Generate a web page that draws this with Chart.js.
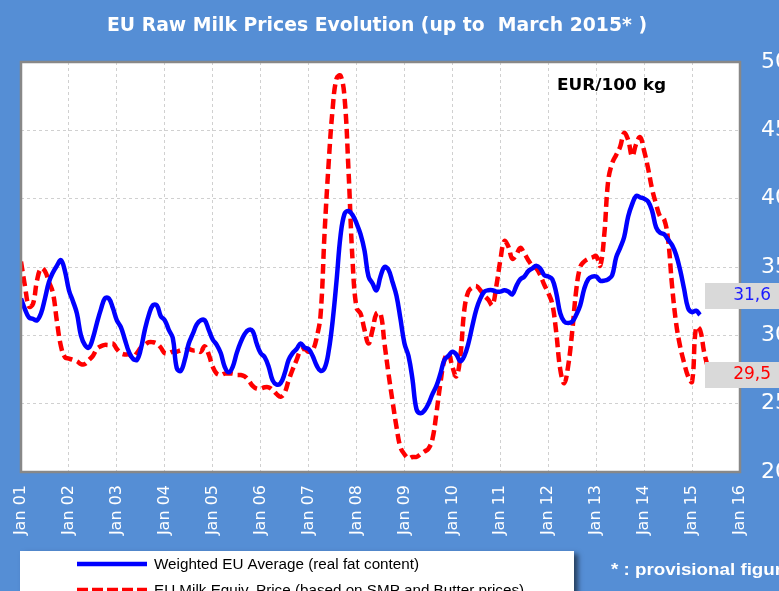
<!DOCTYPE html>
<html>
<head>
<meta charset="utf-8">
<script src="https://cdn.jsdelivr.net/npm/chart.js@4.4.1/dist/chart.umd.min.js"></script>
<style>
html, body { margin: 0; padding: 0; background: #558ED5; overflow: hidden; }
#wrap { width: 779px; height: 591px; }
</style>
</head>
<body>
<div id="wrap"><canvas id="milk-chart" width="779" height="591"></canvas></div>
<script>
// monthly values from Jan 2001, EUR/100 kg
const yearLabels = ['Jan 01', 'Jan 02', 'Jan 03', 'Jan 04', 'Jan 05', 'Jan 06', 'Jan 07', 'Jan 08',
    'Jan 09', 'Jan 10', 'Jan 11', 'Jan 12', 'Jan 13', 'Jan 14', 'Jan 15', 'Jan 16'];
const priceTicks = [20, 25, 30, 35, 40, 45, 50];

const weightedAvg = [
    32.7, 31.9, 31.3, 31.2, 31.1, 31.6, 32.7, 33.9, 34.6, 35.1, 35.5, 34.7, // 2001
    33.3, 32.5, 31.6, 30.0, 29.3, 29.1, 29.8, 30.9, 31.9, 32.7, 32.7, 32.0, // 2002
    31.1, 30.6, 29.7, 28.8, 28.3, 28.2, 29.0, 30.4, 31.5, 32.2, 32.2, 31.4, // 2003
    31.1, 30.4, 29.8, 27.6, 27.4, 28.2, 29.4, 30.1, 30.8, 31.1, 31.1, 30.4, // 2004
    29.7, 29.3, 28.7, 27.7, 27.3, 27.7, 28.7, 29.5, 30.1, 30.4, 30.3, 29.4, // 2005
    28.7, 28.4, 27.7, 26.7, 26.4, 26.5, 27.2, 28.2, 28.7, 29.0, 29.4, 29.1, // 2006
    29.0, 28.5, 27.8, 27.4, 27.6, 28.8, 31.0, 34.0, 37.3, 38.9, 39.1, 38.8, // 2007
    38.2, 37.4, 36.2, 34.3, 33.8, 33.3, 34.3, 35.0, 34.8, 33.9, 32.9, 31.2, // 2008
    29.4, 28.5, 26.8, 24.6, 24.3, 24.5, 25.0, 25.7, 26.3, 27.2, 28.2, 28.5, // 2009
    28.8, 28.6, 28.1, 28.5, 29.4, 30.7, 31.9, 32.7, 33.2, 33.3, 33.3, 33.2, // 2010
    33.2, 33.3, 33.2, 33.0, 33.6, 34.1, 34.3, 34.7, 34.9, 35.1, 34.9, 34.4, // 2011
    34.3, 34.1, 33.1, 31.6, 31.0, 30.9, 31.0, 31.5, 32.2, 33.4, 34.1, 34.3, // 2012
    34.3, 34.0, 34.0, 34.1, 34.4, 35.7, 36.4, 37.2, 38.7, 39.6, 40.2, 40.1, // 2013
    40.0, 39.8, 39.1, 37.9, 37.5, 37.4, 37.0, 36.6, 35.9, 34.8, 33.4, 32.0, // 2014
    31.7, 31.8, 31.5                                                        // 2015
];

const milkEquivPrice = [
    35.4, 33.6, 32.1, 32.3, 34.0, 34.9, 34.7, 33.9, 33.1, 31.0, 29.2, 28.4, // 2001
    28.3, 28.2, 28.1, 27.9, 27.9, 28.2, 28.5, 29.0, 29.2, 29.3, 29.3, 29.4, // 2002
    29.0, 28.7, 28.6, 28.6, 28.4, 28.7, 29.1, 29.3, 29.5, 29.5, 29.4, 29.1, // 2003
    28.7, 28.7, 28.8, 28.8, 28.9, 28.9, 29.0, 28.9, 28.9, 28.8, 29.2, 28.6, // 2004
    27.7, 27.2, 27.1, 27.2, 27.2, 27.2, 27.1, 27.1, 27.0, 26.7, 26.3, 26.1, // 2005
    26.1, 26.2, 26.2, 26.0, 25.7, 25.5, 25.8, 26.7, 27.5, 28.2, 28.9, 29.0, // 2006
    28.8, 28.9, 29.8, 31.5, 37.5, 42.5, 46.5, 48.8, 49.0, 47.4, 42.0, 35.5, // 2007
    32.0, 31.6, 30.4, 29.4, 30.4, 31.6, 31.6, 29.4, 27.2, 25.2, 23.3, 21.8, // 2008
    21.3, 21.0, 21.1, 21.1, 21.3, 21.5, 21.7, 22.4, 24.3, 26.5, 28.2, 28.7, // 2009
    27.7, 27.0, 28.5, 31.9, 33.2, 33.5, 33.6, 33.3, 32.9, 32.6, 32.2, 33.6, // 2010
    35.5, 36.9, 36.5, 35.6, 35.9, 36.4, 36.0, 35.5, 35.1, 34.9, 34.4, 33.7, // 2011
    33.1, 32.3, 30.2, 27.5, 26.5, 27.8, 30.3, 33.3, 35.0, 35.4, 35.6, 35.7, // 2012
    35.8, 35.1, 37.3, 41.3, 42.6, 43.2, 43.8, 44.8, 44.3, 43.1, 44.0, 44.5, // 2013
    43.5, 42.2, 40.7, 39.6, 38.7, 38.5, 37.0, 33.6, 30.9, 29.2, 28.0, 27.0, // 2014
    26.6, 30.6, 30.4, 28.8, 27.6                                            // 2015
];

const seriesNames = ['Weighted EU Average (real fat content)', 'EU Milk Equiv. Price (based on SMP and Butter prices)'];
const lastLabels = ['31,6', '29,5'];
const titleText = 'EU Raw Milk Prices Evolution (up to  March 2015* )';
const unitText = 'EUR/100 kg';
const noteText = '* : provisional figures';

// draws text squeezed/stretched by a factor
function drawScaled(c, text, x, y, sx) {
    c.save();
    c.translate(x, y);
    c.scale(sx, 1);
    c.fillText(text, 0, 0);
    c.restore();
}

function fitText(c, text, x, y, width) {
    drawScaled(c, text, x, y, width / c.measureText(text).width);
}

const framePlugin = {
    id: 'frame',
    beforeDraw(chart) {
        const c = chart.ctx;
        const a = chart.chartArea;
        c.save();
        c.fillStyle = '#558ED5';
        c.fillRect(0, 0, chart.width, chart.height);
        c.fillStyle = '#ffffff';
        c.fillRect(a.left, a.top, a.right - a.left, a.bottom - a.top);
        c.restore();
    },
    afterDraw(chart) {
        const c = chart.ctx;
        const a = chart.chartArea;
        c.save();
        // plot border
        c.strokeStyle = '#888888';
        c.lineWidth = 2.5;
        c.strokeRect(a.left, a.top, a.right - a.left, a.bottom - a.top);

        // title
        c.fillStyle = '#ffffff';
        c.textBaseline = 'middle';
        c.textAlign = 'left';
        c.font = 'bold 20px "DejaVu Sans"';
        fitText(c, titleText, 107, 26, 540);

        // unit
        c.fillStyle = '#000000';
        c.font = 'bold 16px "DejaVu Sans"';
        fitText(c, unitText, 557, 86, 109);

        // last value boxes
        const boxes = [[283, '#1a1aff'], [362, '#ff0000']];
        boxes.forEach((b, i) => {
            c.fillStyle = '#D9D9D9';
            c.fillRect(705, b[0], 80, 26);
            c.fillStyle = b[1];
            c.font = '17px "DejaVu Sans"';
            c.textAlign = 'right';
            c.fillText(lastLabels[i], 771, b[0] + 13);
        });

        // footnote
        c.textAlign = 'left';
        c.fillStyle = '#ffffff';
        c.font = 'bold 16px "Liberation Sans"';
        fitText(c, noteText, 611, 571, 192);

        // legend box
        c.save();
        c.shadowColor = 'rgba(0,0,0,0.55)';
        c.shadowBlur = 5;
        c.shadowOffsetX = 4;
        c.shadowOffsetY = 3;
        c.fillStyle = '#ffffff';
        c.fillRect(20, 551, 554, 60);
        c.restore();

        const rows = [564, 590];
        c.font = '14px "Liberation Sans"';
        const sx = 265 / c.measureText(seriesNames[0]).width;
        chart.data.datasets.forEach((ds, i) => {
            c.beginPath();
            c.strokeStyle = ds.borderColor;
            c.lineWidth = 4.5;
            c.setLineDash(i === 1 ? [11, 4] : []);
            c.moveTo(77, rows[i]);
            c.lineTo(147, rows[i]);
            c.stroke();
            c.setLineDash([]);
            c.fillStyle = '#000000';
            c.textAlign = 'left';
            drawScaled(c, ds.label, 154, rows[i] + 1, sx);
        });
        c.restore();
    }
};

new Chart(document.getElementById('milk-chart').getContext('2d'), {
    type: 'line',
    data: {
        datasets: [{
            label: seriesNames[0],
            data: weightedAvg.map((v, i) => ({ x: i, y: v })),
            borderColor: '#0000FF',
            borderWidth: 4.5,
            pointRadius: 0,
            tension: 0.4,
            fill: false
        }, {
            label: seriesNames[1],
            data: milkEquivPrice.map((v, i) => ({ x: i, y: v })),
            borderColor: '#FF0000',
            borderWidth: 4.5,
            borderDash: [10, 5],
            pointRadius: 0,
            tension: 0.4,
            fill: false
        }]
    },
    options: {
        responsive: false,
        animation: false,
        devicePixelRatio: 1,
        layout: { padding: { left: 21, top: 62, right: 0, bottom: 0 } },
        plugins: {
            legend: { display: false },
            title: { display: false },
            tooltip: { enabled: false }
        },
        scales: {
            x: {
                type: 'linear',
                min: 0,
                max: 180,
                afterBuildTicks: (scale) => {
                    scale.ticks = yearLabels.map((t, i) => ({ value: i * 12 }));
                },
                afterFit: (scale) => { scale.height = 119; },
                grid: { color: '#D0D0D0', lineWidth: 1, drawTicks: false },
                border: { display: false, dash: [3, 3] },
                ticks: {
                    autoSkip: false,
                    minRotation: 90,
                    maxRotation: 90,
                    padding: 13,
                    color: '#ffffff',
                    font: { family: 'DejaVu Sans', size: 16 },
                    callback: (v) => yearLabels[Math.round(v / 12)]
                }
            },
            y: {
                position: 'right',
                min: 20,
                max: 50,
                afterBuildTicks: (scale) => {
                    scale.ticks = priceTicks.map((v) => ({ value: v }));
                },
                afterFit: (scale) => { scale.width = 39; },
                grid: { color: '#D0D0D0', lineWidth: 1, drawTicks: false },
                border: { display: false, dash: [3, 3] },
                ticks: {
                    padding: 21,
                    color: '#ffffff',
                    font: { family: 'DejaVu Sans', size: 22 }
                }
            }
        }
    },
    plugins: [framePlugin]
});
</script>
</body>
</html>
